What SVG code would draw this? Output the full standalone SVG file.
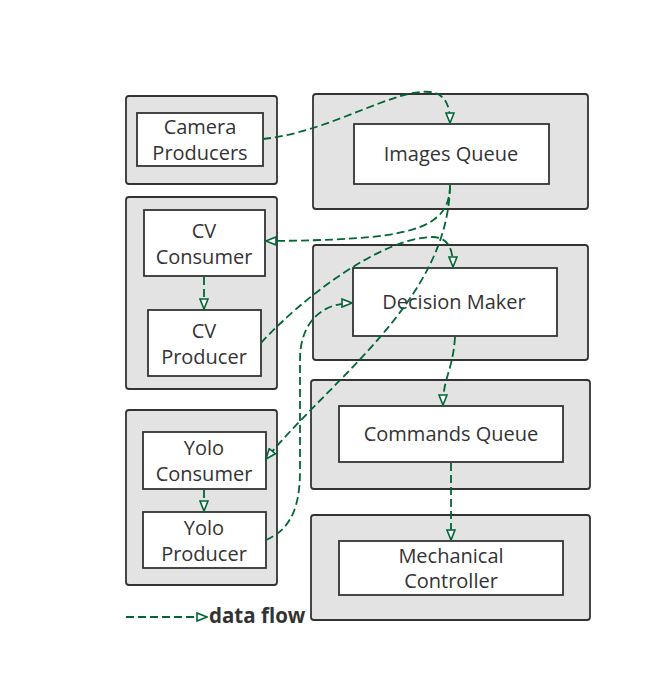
<svg xmlns="http://www.w3.org/2000/svg" width="653" height="692" viewBox="0 0 653 692">
<defs>
<marker id="arr" viewBox="0 0 12 10" refX="11" refY="5" markerWidth="12" markerHeight="10" markerUnits="userSpaceOnUse" orient="auto">
<path d="M1,1 L11,5 L1,9 Z" fill="#fff" stroke="#006633" stroke-width="1.6"/>
</marker>
<style>
.grp{fill:#e3e3e3;stroke:#333;stroke-width:1.8}
.box{fill:#fff;stroke:#333;stroke-width:1.8}
.t{font-family:"Open Sans","Noto Sans",sans-serif;font-size:20px;fill:#333;text-anchor:middle}
.c{fill:none;stroke:#006633;stroke-width:1.8;stroke-dasharray:8,4;marker-end:url(#arr)}
</style>
</defs>
<rect width="653" height="692" fill="#fff"/>
<g id="group-camera"><rect class="grp" x="126" y="96" width="151" height="88" rx="3"/></g>
<g id="group-images"><rect class="grp" x="313" y="94" width="275" height="115" rx="3"/></g>
<g id="group-cv"><rect class="grp" x="126" y="197" width="151" height="192" rx="3"/></g>
<g id="group-decision"><rect class="grp" x="313" y="245" width="275" height="115" rx="3"/></g>
<g id="group-commands"><rect class="grp" x="311" y="380" width="279" height="109" rx="3"/></g>
<g id="group-yolo"><rect class="grp" x="126" y="410" width="151" height="175" rx="3"/></g>
<g id="group-mech"><rect class="grp" x="311" y="515" width="279" height="105" rx="3"/></g>

<g id="camera-producers"><rect class="box" x="137" y="113" width="126" height="53"/><text class="t" x="200" y="134">Camera</text><text class="t" x="200" y="160">Producers</text></g>
<g id="images-queue"><rect class="box" x="354" y="124" width="195" height="60"/><text class="t" x="451" y="161">Images Queue</text></g>
<g id="cv-consumer"><rect class="box" x="144" y="210" width="121" height="66"/><text class="t" x="204" y="238">CV</text><text class="t" x="204" y="264">Consumer</text></g>
<g id="cv-producer"><rect class="box" x="148" y="310" width="113" height="66"/><text class="t" x="204" y="338">CV</text><text class="t" x="204" y="364">Producer</text></g>
<g id="decision-maker"><rect class="box" x="353" y="268" width="204" height="68"/><text class="t" x="454" y="309">Decision Maker</text></g>
<g id="commands-queue"><rect class="box" x="339" y="406" width="224" height="56"/><text class="t" x="451" y="441">Commands Queue</text></g>
<g id="yolo-consumer"><rect class="box" x="143" y="432" width="123" height="57"/><text class="t" x="204" y="455">Yolo</text><text class="t" x="204" y="481">Consumer</text></g>
<g id="yolo-producer"><rect class="box" x="143" y="512" width="123" height="56"/><text class="t" x="204" y="535">Yolo</text><text class="t" x="204" y="561">Producer</text></g>
<g id="mechanical-controller"><rect class="box" x="339" y="541" width="224" height="54"/><text class="t" x="451" y="563">Mechanical</text><text class="t" x="451" y="588">Controller</text></g>

<g id="connectors">
<path class="c" d="M263,139 C330,132 395,88 430,92 C446,94 450,106 450,123"/>
<path class="c" d="M450,185 C450,232 405,240 266,241"/>
<path class="c" d="M450,186 C448,300 330,380 266,459"/>
<path class="c" d="M261,343 C300,300 380,238 432,237 C449,237 453,250 453,267"/>
<path class="c" d="M266,540 C292,529 300,505 300,470 L300,360 C300,322 322,303 352,303"/>
<path class="c" d="M455,337 C453,370 443,378 443,405"/>
<path class="c" d="M204,277 L204,309"/>
<path class="c" d="M204,490 L204,511"/>
<path class="c" d="M451,463 L451,540"/>
<path class="c" d="M126,617 L207,617"/>
</g>
<text x="209" y="623" font-family="'Open Sans','Noto Sans',sans-serif" font-size="20.5" font-weight="bold" fill="#333">data flow</text>
</svg>
